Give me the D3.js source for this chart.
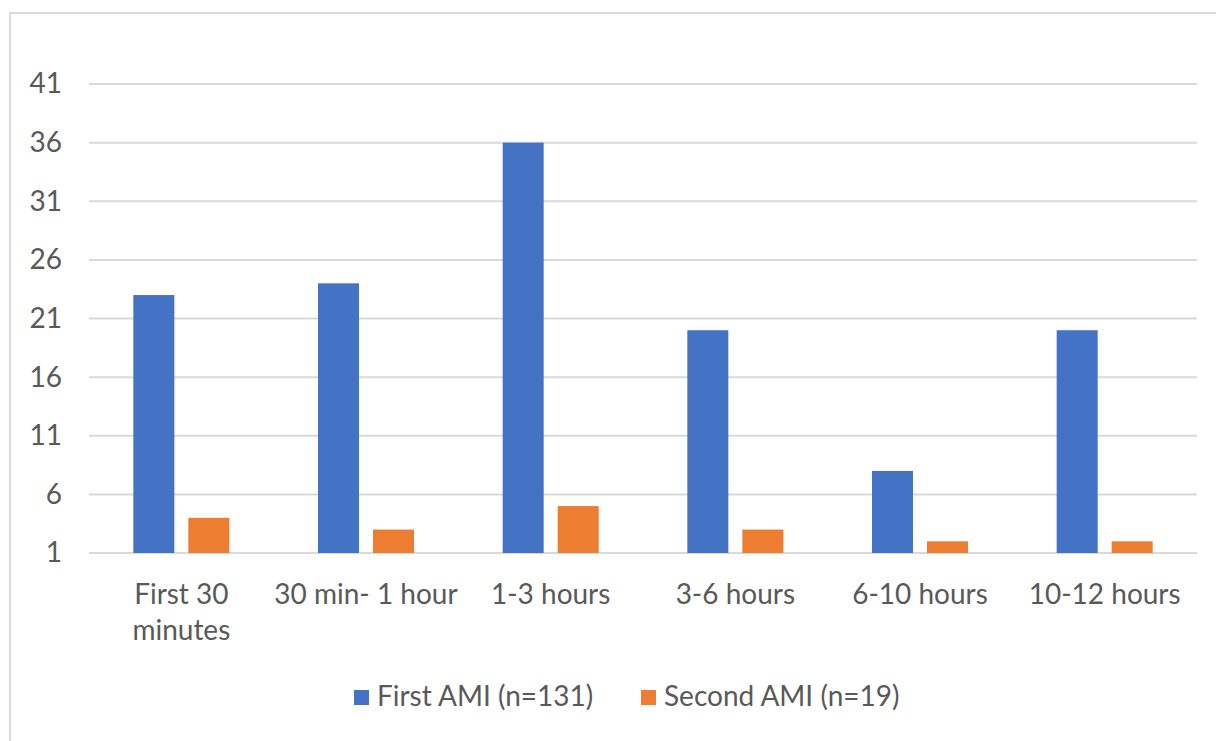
<!DOCTYPE html>
<html><head><meta charset="utf-8">
<script src="https://cdn.jsdelivr.net/npm/d3@7"></script>
<style>body{margin:0;background:#fff;} svg{display:block;}</style>
</head><body>
<svg id="chart" width="1216" height="741"></svg>
<script>
const categories = ["First 30 minutes","30 min- 1 hour","1-3 hours","3-6 hours","6-10 hours","10-12 hours"];
const categoryLines = [["First 30","minutes"],["30 min- 1 hour"],["1-3 hours"],["3-6 hours"],["6-10 hours"],["10-12 hours"]];
const seriesNames = ["First AMI (n=131)","Second AMI (n=19)"];
const firstAMI = [23,24,36,20,8,20];
const secondAMI = [4,3,5,3,2,2];
const yTicks = [1,6,11,16,21,26,31,36,41];
const colors = ["#4472C4","#ED7D31"];

(function(){
const svg = d3.select("#chart");
const font = "Lato, 'Open Sans', sans-serif";
const textColor = "#595959";
const fs = 28;

// outer frame
svg.append("rect").attr("x",10).attr("y",13).attr("width",1230).attr("height",760)
  .attr("fill","none").attr("stroke","#d9d9d9").attr("stroke-width",2);

const pLeft = 89, pRight = 1197, pTop = 84, pBottom = 553;
const y = d3.scaleLinear().domain([1,41]).range([pBottom, pTop]);
const x0 = d3.scaleBand().domain(categories).range([pLeft,pRight]).padding(0);
const x1 = d3.scaleBand().domain(seriesNames).range([0, x0.bandwidth()]).paddingInner(0.2545).paddingOuter(0.806);

// gridlines
svg.append("g").selectAll("line").data(yTicks).join("line")
  .attr("x1",pLeft).attr("x2",pRight)
  .attr("y1",d=>y(d)).attr("y2",d=>y(d))
  .attr("stroke","#d9d9d9").attr("stroke-width",2);

// y axis labels
const yAxis = d3.axisLeft(y).tickValues(yTicks).tickSize(0).tickPadding(0);
const yg = svg.append("g").attr("transform",`translate(62,0)`).call(yAxis);
yg.select(".domain").remove();
yg.selectAll("text").attr("font-family",font).attr("font-size",fs).attr("fill",textColor);

// bars
const data = categories.map((c,i)=>({c, vals:[firstAMI[i], secondAMI[i]]}));
const groups = svg.append("g").selectAll("g").data(data).join("g")
  .attr("transform",d=>`translate(${x0(d.c)},0)`);
groups.selectAll("rect").data(d=>d.vals.map((v,j)=>({s:seriesNames[j], v, j})))
  .join("rect")
  .attr("x",d=>x1(d.s)).attr("width",x1.bandwidth())
  .attr("y",d=>y(d.v)).attr("height",d=>y(1)-y(d.v))
  .attr("fill",d=>colors[d.j]);

// x axis labels
const xAxis = d3.axisBottom(x0).tickSize(0).tickFormat("");
const xg = svg.append("g").attr("transform",`translate(0,${pBottom})`).call(xAxis);
xg.select(".domain").remove();
xg.selectAll(".tick").each(function(d,i){
  const t = d3.select(this).append("text").attr("font-family",font).attr("font-size",fs)
    .attr("fill",textColor).attr("text-anchor","middle");
  categoryLines[i].forEach((ln,k)=>{
    t.append("tspan").attr("x",0).attr("y",51 + k*36).text(ln);
  });
});

// legend
const legendItems = [{x:354, name:seriesNames[0], c:colors[0]},{x:641, name:seriesNames[1], c:colors[1]}];
const lg = svg.append("g");
legendItems.forEach(it=>{
  lg.append("rect").attr("x",it.x).attr("y",690).attr("width",15).attr("height",15).attr("fill",it.c);
  lg.append("text").attr("x",it.x+23).attr("y",706).attr("font-family",font).attr("font-size",fs)
    .attr("fill",textColor).text(it.name);
});
})();
</script>
</body></html>
